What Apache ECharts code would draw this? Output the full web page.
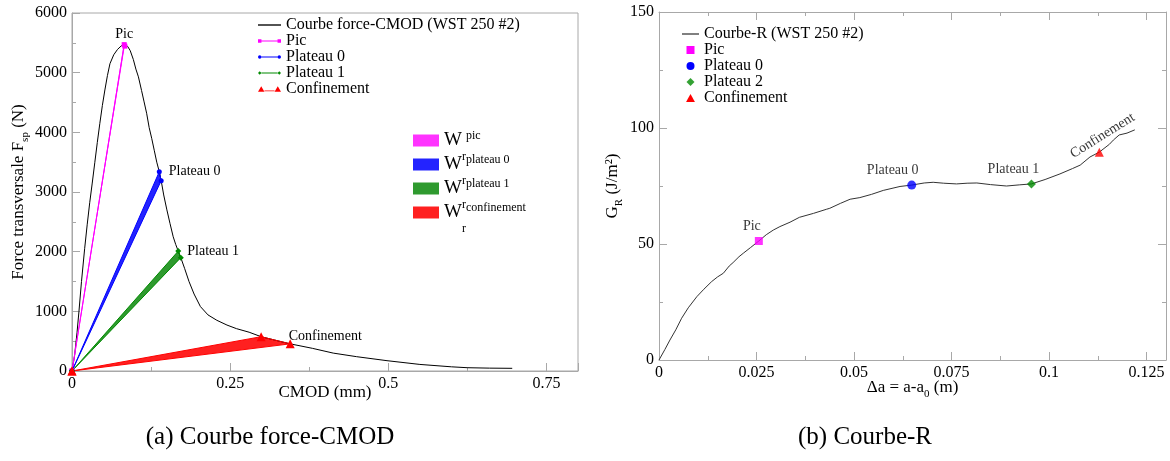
<!DOCTYPE html>
<html><head><meta charset="utf-8">
<script src="https://cdn.jsdelivr.net/npm/echarts@6/dist/echarts.min.js"></script>
<style>html,body{margin:0;padding:0;background:#fff}#c{width:1170px;height:461px}</style>
</head><body><div id="c"></div>
<script>
// ---------- data: (a) force-CMOD ----------
const cmodCurve = [
 [0,0],[0.004,250],[0.008,650],[0.011,1000],[0.015,1500],[0.020,2050],[0.024,2450],[0.028,2820],
 [0.032,3150],[0.036,3490],[0.040,3830],[0.044,4150],[0.048,4450],[0.052,4710],[0.056,4950],
 [0.060,5150],[0.066,5300],[0.072,5390],[0.078,5450],[0.084,5480],[0.088,5440],[0.092,5370],
 [0.097,5220],[0.101,5060],[0.105,4930],[0.110,4700],[0.114,4510],[0.118,4320],[0.122,4080],
 [0.126,3900],[0.130,3700],[0.134,3500],[0.138,3340],[0.141,3190],[0.145,2950],[0.150,2700],
 [0.155,2470],[0.160,2250],[0.164,2120],[0.168,2010],[0.172,1900],[0.178,1720],[0.185,1500],
 [0.193,1290],[0.203,1080],[0.215,940],[0.229,850],[0.245,770],[0.260,710],[0.280,650],
 [0.299,575],[0.320,520],[0.345,455],[0.380,380],[0.413,300],[0.450,240],[0.498,173],
 [0.550,110],[0.600,70],[0.625,55],[0.660,48],[0.696,45]
];
const picPts = [[0,0],[0.0825,5470],[0.0835,5445],[0,0]];
const plateau0Pts = [[0,0],[0.138,3340],[0.141,3190],[0,0]];
const plateau1Pts = [[0,0],[0.168,2010],[0.172,1900],[0,0]];
const confinementPts = [[0,0],[0.299,575],[0.345,455],[0,0]];
const xTicksA = {min:0, max:0.8, interval:0.25};
const yTicksA = {min:0, max:6000, interval:1000};
const pointLabelsA = ['Pic', 'Plateau 0', 'Plateau 1', 'Confinement'];

// ---------- data: (b) R-curve ----------
const rCurve = [
 [0,0],[0.0015,4.5],[0.0028,8.6],[0.0043,13],[0.0058,18],[0.0075,22.5],[0.0097,27.3],[0.0115,30.5],
 [0.0135,33.8],[0.0150,35.8],[0.0165,37.4],[0.018,40.5],[0.019,42],[0.0205,44.5],[0.0216,46],
 [0.0235,48.5],[0.0256,51.3],[0.0275,54],[0.0293,56],[0.031,57.5],[0.0336,59.4],[0.036,61.5],
 [0.0396,63.2],[0.043,65],[0.0438,65.4],[0.0465,67.5],[0.049,69.3],[0.0515,70],[0.0545,71.4],
 [0.0575,73.1],[0.0618,74.8],[0.0648,75.4],[0.068,76.3],[0.0703,76.6],[0.073,76.2],[0.0763,75.9],
 [0.079,76.2],[0.0815,76.3],[0.085,75.6],[0.0891,75],[0.0925,75.5],[0.0955,75.9],[0.099,77.8],
 [0.1028,80.2],[0.106,82.5],[0.108,84],[0.1105,87.5],[0.1129,89.6],[0.1155,93],[0.1165,94.8],
 [0.118,97],[0.120,97.8],[0.122,99.2]
];
const rPic = [0.0256, 51.3];
const rPlateau0 = [0.0648, 75.4];
const rPlateau2 = [0.0955, 75.9];
const rConfinement = [0.1129, 89.6];
const xTicksB = {min:0, max:0.13, interval:0.025};
const yTicksB = {min:0, max:150, interval:50};
const pointLabelsB = ['Pic', 'Plateau 0', 'Plateau 1', 'Confinement'];

const wrLabels = {Wr_pic:'pic', Wr_plateau0:'plateau 0', Wr_plateau1:'plateau 1', Wr_confinement:'confinement'};
const captions = ['(a) Courbe force-CMOD', '(b) Courbe-R'];

// ---------- styling ----------
const F = 'Liberation Serif';
const AX = '#a8a8a8';
const C = {pic:'#ff00ff', p0:'#0000ff', p1:'#008a00', conf:'#ff0000',
           fpic:'#ff33ff', fp0:'#2323ff', fp1:'#2f9a2f', fconf:'#ff2020'};

function valAxis(grid, t, extra){
  return Object.assign({
    type:'value', gridIndex:grid, min:t.min, max:t.max, interval:t.interval,
    nameMoveOverlap:false,
    axisLine:{show:true, onZero:false, lineStyle:{color:AX, width:1}},
    axisTick:{show:true, inside:true, length:8, lineStyle:{color:AX}},
    minorTick:{show:true, splitNumber:2, length:4, lineStyle:{color:AX}},
    splitLine:{show:false}, minorSplitLine:{show:false},
    axisLabel:{color:'#000', fontFamily:F, fontSize:16, margin:5,
      formatter:function(v){ return String(v); }}
  }, extra||{});
}
function mirror(grid, t, pos){
  return valAxis(grid, t, {position:pos, axisLabel:{show:false}});
}
const subRich = {sub:{fontFamily:F, fontSize:11, lineHeight:12, verticalAlign:'bottom', color:'#000'}};
function nameStyle(){ return {fontFamily:F, fontSize:17, color:'#000', lineHeight:24, rich:subRich}; }

function polySeries(name, pts, color){
  return {type:'custom', name:name, xAxisIndex:0, yAxisIndex:0, data:pts, z:1, silent:true,
    itemStyle:{color:color},
    renderItem:function(params, api){
      if(params.dataIndex!==0) return null;
      return {type:'polygon', shape:{points:pts.map(function(p){return api.coord(p);})}, style:{fill:color}};
    }};
}
function lbl(pts, idx, text, label){
  return pts.map(function(p,i){ return i===idx ? {value:p, label:Object.assign({show:true, formatter:text, color:'#000', fontFamily:F, fontSize:14}, label)} : p; });
}
function markLine(name, pts, color, sym, size, idx, text, label){
  return {type:'line', name:name, xAxisIndex:0, yAxisIndex:0, data:lbl(pts, idx, text, label), z:3,
    symbol:sym, symbolSize:size, showSymbol:true, lineStyle:{color:color, width:1}, itemStyle:{color:color}};
}
function pointSeries(name, pt, color, sym, size, text, label){
  return {type:'scatter', name:name, xAxisIndex:1, yAxisIndex:1, z:4, symbol:sym, symbolSize:size,
    itemStyle:{color:color},
    data:[{value:pt, label:Object.assign({show:true, formatter:text, color:'#000', fontFamily:F, fontSize:14, position:'top'}, label)}]};
}

const option = {
  animation:false,
  backgroundColor:'#fff',
  grid:[
    {left:72, top:13, width:506, height:358, show:true, borderColor:AX, borderWidth:1, backgroundColor:'transparent'},
    {left:659, top:12, width:507, height:348, show:false}
  ],
  xAxis:[
    valAxis(0, xTicksA, {name:'CMOD (mm)', nameLocation:'middle', nameGap:10, nameTextStyle:nameStyle(),
      axisLabel:{color:'#000', fontFamily:F, fontSize:16, margin:5, showMaxLabel:false, formatter:function(v){return String(v);}}}),
    valAxis(1, xTicksB, {name:'Δa = a-a{sub|0} (m)', nameLocation:'middle', nameGap:16, nameTextStyle:nameStyle(),
      axisLabel:{color:'#000', fontFamily:F, fontSize:16, margin:5, showMaxLabel:false, formatter:function(v){return String(v);}}}),
    mirror(1, xTicksB, 'top')
  ],
  yAxis:[
    valAxis(0, yTicksA, {name:'Force transversale F{sub|sp} (N)', nameLocation:'middle', nameGap:41, nameTextStyle:nameStyle()}),
    valAxis(1, yTicksB, {name:'G{sub|R} (J/m²)', nameLocation:'middle', nameGap:34, nameTextStyle:nameStyle()}),
    mirror(1, yTicksB, 'right')
  ],
  legend:[
    {left:258, top:17, padding:0, orient:'vertical', itemWidth:23, itemHeight:8, itemGap:0, selectedMode:false,
     itemStyle:{borderWidth:0},
     textStyle:{fontFamily:F, fontSize:16, color:'#000', lineHeight:16},
     data:[
      {name:'Courbe force-CMOD (WST 250 #2)', icon:'path://M0,0h17v1h-17z'},
      {name:'Pic', icon:'path://M0,0h3v3h-3zM3,1h14v1h-14zM17,0h3v3h-3z'},
      {name:'Plateau 0', icon:'path://M0,1.5a1.5,1.5 0 1,0 3,0a1.5,1.5 0 1,0 -3,0zM3,1h14v1h-14zM17,1.5a1.5,1.5 0 1,0 3,0a1.5,1.5 0 1,0 -3,0z'},
      {name:'Plateau 1', icon:'path://M0,1.5L1.5,0L3,1.5L1.5,3zM3,1h14v1h-14zM17,1.5L18.5,0L20,1.5L18.5,3z'},
      {name:'Confinement', icon:'path://M0,6L3.5,0L7,6zM7,4.5h11v1h-11zM18,6L21.5,0L25,6z'}
     ]},
    {left:413, top:130, padding:0, orient:'vertical', itemWidth:26, itemHeight:12, itemGap:-9, selectedMode:false,
     icon:'rect',
     itemStyle:{borderWidth:0},
     formatter:function(n){ return '{w|W}{r|r}{s|'+wrLabels[n]+'}'; },
     textStyle:{fontFamily:F, color:'#000', rich:{
       w:{fontFamily:F, fontSize:19, lineHeight:45, verticalAlign:'middle', color:'#000'},
       r:{fontFamily:F, fontSize:12, verticalAlign:'bottom', color:'#000'},
       s:{fontFamily:F, fontSize:12, verticalAlign:'top', padding:[12,0,0,0], color:'#000'}
     }},
     data:['Wr_pic','Wr_plateau0','Wr_plateau1','Wr_confinement']},
    {left:682, top:26, padding:0, orient:'vertical', itemWidth:17, itemHeight:8, itemGap:0, selectedMode:false,
     itemStyle:{borderWidth:0},
     textStyle:{fontFamily:F, fontSize:16, color:'#000', lineHeight:15.6},
     data:[
      {name:'Courbe-R (WST 250 #2)', icon:'path://M0,0h17v1h-17z'},
      {name:'Pic', icon:'path://M0,0h7v7h-7z'},
      {name:'Plateau 0', icon:'path://M0,5a5,5 0 1,0 10,0a5,5 0 1,0 -10,0z'},
      {name:'Plateau 2', icon:'path://M5,0L10,5L5,10L0,5z'},
      {name:'Confinement', icon:'path://M5,0L10,9L0,9z'}
     ]}
  ],
  graphic:[
    {type:'text', x:270, y:437, style:{text:captions[0], font:'25px "Liberation Serif"', fill:'#000', align:'center', verticalAlign:'middle'}},
    {type:'text', x:865, y:437, style:{text:captions[1], font:'25px "Liberation Serif"', fill:'#000', align:'center', verticalAlign:'middle'}}
  ],
  series:[
    polySeries('Wr_pic', picPts, C.fpic),
    polySeries('Wr_plateau0', plateau0Pts, C.fp0),
    polySeries('Wr_plateau1', plateau1Pts, C.fp1),
    polySeries('Wr_confinement', confinementPts, C.fconf),
    {type:'line', name:'Courbe force-CMOD (WST 250 #2)', xAxisIndex:0, yAxisIndex:0, data:cmodCurve,
     symbol:'none', z:2, lineStyle:{color:'#000', width:1}, itemStyle:{color:'#000'}},
    markLine('Pic', picPts, C.pic, 'rect', 5, 1, pointLabelsA[0], {position:'top', distance:1}),
    markLine('Plateau 0', plateau0Pts, C.p0, 'circle', 5, 1, pointLabelsA[1], {position:'right', distance:7}),
    markLine('Plateau 1', plateau1Pts, C.p1, 'diamond', 6, 1, pointLabelsA[2], {position:'right', distance:6}),
    markLine('Confinement', confinementPts, C.conf, 'triangle', 9, 2, pointLabelsA[3], {position:'right', distance:0, offset:[-6,-8]}),
    {type:'line', name:'Courbe-R (WST 250 #2)', xAxisIndex:1, yAxisIndex:1, data:rCurve,
     symbol:'none', z:2, lineStyle:{color:'#333', width:1}, itemStyle:{color:'#000'}},
    pointSeries('Pic', rPic, C.pic, 'rect', 8, pointLabelsB[0], {offset:[-7,0], distance:4}),
    pointSeries('Plateau 0', rPlateau0, C.p0, 'circle', 9, pointLabelsB[1], {offset:[-19,0], distance:3}),
    pointSeries('Plateau 2', rPlateau2, C.p1, 'diamond', 9, pointLabelsB[2], {offset:[-18,0], distance:3}),
    pointSeries('Confinement', rConfinement, C.conf, 'triangle', 9, pointLabelsB[3], {rotate:32, offset:[7,2], distance:4})
  ]
};
const chart = echarts.init(document.getElementById('c'), null, {renderer:'canvas'});
chart.setOption(option);
</script></body></html>
